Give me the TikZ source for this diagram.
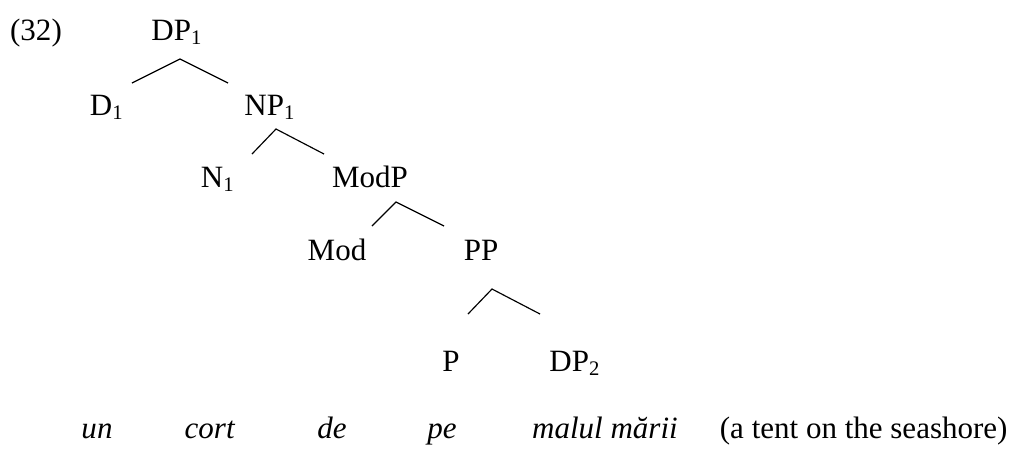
\documentclass[tikz,border=0pt]{standalone}
\usepackage{fontspec}
\setmainfont{Liberation Serif}

\begin{document}
\begin{tikzpicture}[x=0.387pt,y=-0.387pt,font=\fontsize{12}{14}\selectfont]
\tikzset{lbl/.style={anchor=base,inner sep=0pt}, branch/.style={line width=0.45pt}}
\useasboundingbox (0,0) rectangle (1011,448);
\node[lbl] (num) at (36,40) {(32)};
% tree labels
\node[lbl] (dpone) at (177,40) {DP\textsubscript{1}};
\node[lbl] (done) at (107,115) {D\textsubscript{1}};
\node[lbl] (npone) at (270,115) {NP\textsubscript{1}};
\node[lbl] (none) at (218,187) {N\textsubscript{1}};
\node[lbl] (modp) at (370,187) {ModP};
\node[lbl] (mod) at (337,260) {Mod};
\node[lbl] (pp) at (481,260) {PP};
\node[lbl] (p) at (451,371) {P};
\node[lbl] (dptwo) at (575,371) {DP\textsubscript{2}};
% branches
\coordinate (dptop) at (180,59);
\coordinate (dpl) at (132,83);
\coordinate (dpr) at (228,83);
\coordinate (nptop) at (276,129);
\coordinate (npl) at (252,154);
\coordinate (npr) at (324,154);
\coordinate (modtop) at (396,202);
\coordinate (modl) at (372,226);
\coordinate (modr) at (444,226);
\coordinate (pptop) at (492,289);
\coordinate (ppl) at (468,314);
\coordinate (ppr) at (540,314);
\draw[branch] (dpl) -- (dptop) -- (dpr);
\draw[branch] (npl) -- (nptop) -- (npr);
\draw[branch] (modl) -- (modtop) -- (modr);
\draw[branch] (ppl) -- (pptop) -- (ppr);
% example sentence
\node[lbl] (un) at (97,438) {\textit{un}};
\node[lbl] (cort) at (210,438) {\textit{cort}};
\node[lbl] (de) at (332,438) {\textit{de}};
\node[lbl] (pe) at (442,438) {\textit{pe}};
\node[lbl] (malul) at (605,438) {\textit{malul mării}};
\node[lbl,anchor=base east] (gloss) at (1008,438) {(a tent on the seashore)};
\end{tikzpicture}
\end{document}
